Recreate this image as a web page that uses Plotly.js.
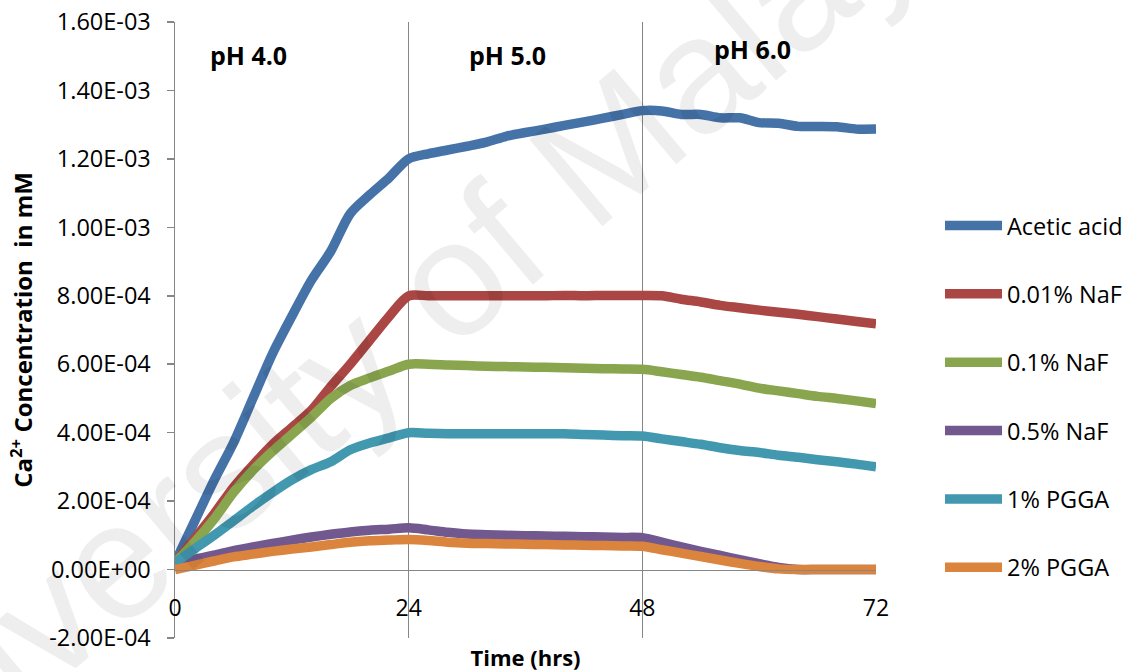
<!DOCTYPE html>
<html><head><meta charset="utf-8">
<script src="https://cdn.plot.ly/plotly-3.0.1.min.js"></script>
<style>html,body{margin:0;padding:0;background:#fff}#chart{width:1141px;height:672px}</style>
</head><body><div id="chart"></div>
<script>
// Time (hrs)
const hours = [0,2,4,6,8,10,12,14,16,18,20,22,24,26,28,30,32,34,36,38,40,42,44,46,48,50,52,54,56,58,60,62,64,66,68,70,72];

// Ca2+ concentration (mM)
const aceticAcid = [2.0e-5,1.40e-4,2.60e-4,3.70e-4,5.00e-4,6.30e-4,7.40e-4,8.45e-4,9.30e-4,1.040e-3,1.095e-3,1.145e-3,1.200e-3,
  1.215e-3,1.226e-3,1.237e-3,1.249e-3,1.266e-3,1.277e-3,1.287e-3,1.298e-3,1.308e-3,1.319e-3,1.330e-3,1.341e-3,
  1.340e-3,1.330e-3,1.330e-3,1.320e-3,1.320e-3,1.306e-3,1.304e-3,1.295e-3,1.295e-3,1.294e-3,1.287e-3,1.287e-3];
const naf001 = [2.0e-5,9.0e-5,1.62e-4,2.40e-4,3.05e-4,3.65e-4,4.15e-4,4.65e-4,5.35e-4,6.00e-4,6.70e-4,7.40e-4,8.00e-4,
  8.00e-4,8.00e-4,8.00e-4,8.00e-4,8.00e-4,8.00e-4,8.00e-4,8.01e-4,8.00e-4,8.01e-4,8.01e-4,8.01e-4,
  8.00e-4,7.90e-4,7.82e-4,7.72e-4,7.65e-4,7.58e-4,7.52e-4,7.46e-4,7.39e-4,7.32e-4,7.25e-4,7.18e-4];
const naf01 = [2.0e-5,8.0e-5,1.47e-4,2.25e-4,2.90e-4,3.45e-4,3.95e-4,4.45e-4,5.00e-4,5.38e-4,5.60e-4,5.80e-4,6.00e-4,
  6.00e-4,5.98e-4,5.96e-4,5.94e-4,5.93e-4,5.92e-4,5.91e-4,5.90e-4,5.88e-4,5.87e-4,5.86e-4,5.85e-4,
  5.78e-4,5.70e-4,5.62e-4,5.52e-4,5.42e-4,5.30e-4,5.22e-4,5.14e-4,5.06e-4,5.00e-4,4.93e-4,4.85e-4];
const naf05 = [2.0e-5,3.0e-5,4.2e-5,5.5e-5,6.6e-5,7.6e-5,8.6e-5,9.5e-5,1.03e-4,1.10e-4,1.15e-4,1.18e-4,1.22e-4,
  1.16e-4,1.09e-4,1.04e-4,1.02e-4,1.00e-4,9.9e-5,9.8e-5,9.7e-5,9.6e-5,9.5e-5,9.4e-5,9.3e-5,
  8.0e-5,6.6e-5,5.3e-5,4.1e-5,2.9e-5,1.7e-5,6.0e-6,0,0,0,0,0];
const pgga1 = [2.0e-5,6.0e-5,1.00e-4,1.42e-4,1.85e-4,2.25e-4,2.62e-4,2.92e-4,3.15e-4,3.50e-4,3.70e-4,3.85e-4,4.00e-4,
  3.98e-4,3.97e-4,3.97e-4,3.97e-4,3.97e-4,3.97e-4,3.97e-4,3.97e-4,3.95e-4,3.93e-4,3.91e-4,3.90e-4,
  3.82e-4,3.74e-4,3.66e-4,3.56e-4,3.48e-4,3.42e-4,3.34e-4,3.28e-4,3.21e-4,3.15e-4,3.08e-4,3.00e-4];
const pgga2 = [0,1.2e-5,2.5e-5,3.7e-5,4.5e-5,5.3e-5,6.0e-5,6.6e-5,7.3e-5,8.0e-5,8.4e-5,8.6e-5,8.8e-5,
  8.5e-5,8.0e-5,7.7e-5,7.6e-5,7.5e-5,7.4e-5,7.3e-5,7.2e-5,7.1e-5,7.0e-5,6.9e-5,6.8e-5,
  5.8e-5,4.8e-5,3.8e-5,2.8e-5,1.8e-5,9.0e-6,2.0e-6,0,0,0,0,0];

const seriesNames = ['Acetic acid','0.01% NaF','0.1% NaF','0.5% NaF','1% PGGA','2% PGGA'];
const seriesValues = [aceticAcid, naf001, naf01, naf05, pgga1, pgga2];
const seriesColors = ['#4572A7','#AA4643','#89A54E','#71588F','#4198AF','#DB843D'];

const xTickVals = [0,24,48,72];
const xTickText = ['0','24','48','72'];
const yTickVals = [-2e-4,0,2e-4,4e-4,6e-4,8e-4,1e-3,1.2e-3,1.4e-3,1.6e-3];
const yTickText = ['-2.00E-04','0.00E+00','2.00E-04','4.00E-04','6.00E-04','8.00E-04','1.00E-03','1.20E-03','1.40E-03','1.60E-03'];

const phLabels = ['pH 4.0','pH 5.0','pH 6.0'];
const phLabelX = [7.5, 34.2, 59.3];
const phLabelY = [1.505e-3, 1.505e-3, 1.52e-3];

const yMin = -2e-4, yMax = 1.6e-3;

const traces = seriesNames.map((name, i) => ({
  type: 'scatter', mode: 'lines', name: name, x: hours, y: seriesValues[i],
  legendgroup: 'g' + i,
  line: {color: seriesColors[i], width: 9.5, shape: 'spline', smoothing: 0.8},
  hoverinfo: 'skip'
}));

const annotations = phLabels.map((t, i) => ({
  text: '<b>' + t + '</b>', x: phLabelX[i], y: phLabelY[i], xref: 'x', yref: 'y',
  xanchor: 'center', yanchor: 'middle',
  showarrow: false, font: {size: 25, color: '#000', family: 'Open Sans, sans-serif'}
}));
annotations.push({
  text: 'University of Malaya', xref: 'paper', yref: 'paper', x: 0.312, y: 0.505,
  xanchor: 'center', yanchor: 'middle',
  showarrow: false, textangle: -40,
  font: {family: 'Liberation Sans, Arial, sans-serif', size: 165, color: 'rgba(0,0,0,0.065)'}
});

const layout = {
  width: 1141, height: 672,
  margin: {l: 175, r: 265, t: 22, b: 34},
  paper_bgcolor: '#ffffff', plot_bgcolor: 'rgba(0,0,0,0)',
  font: {family: 'Open Sans, sans-serif', color: '#000'},
  showlegend: true,
  xaxis: {
    range: [0, 72], tickmode: 'array', tickvals: xTickVals, ticktext: xTickText,
    showgrid: true, gridcolor: '#868686', gridwidth: 1.5,
    showline: true, linecolor: '#868686', linewidth: 1.5, ticks: '', zeroline: false,
    anchor: 'free', position: (0 - yMin) / (yMax - yMin),
    tickfont: {size: 23, color: '#000'}, ticklabelstandoff: 17, automargin: false,
    title: {text: '<b>Time (hrs)</b>', font: {size: 22, color: '#000'}, standoff: 31}
  },
  yaxis: {
    range: [yMin, yMax], tickmode: 'array', tickvals: yTickVals, ticktext: yTickText,
    showgrid: false, zeroline: false, showline: true, linecolor: '#868686', linewidth: 1.5,
    ticks: 'outside', ticklen: 7, tickcolor: '#868686', tickwidth: 1.5,
    tickfont: {size: 23.5, color: '#000'}, ticklabelstandoff: 11, automargin: false,
    title: {text: '<b>Ca<sup>2+</sup> Concentration  in mM</b>', font: {size: 24, color: '#000'}, standoff: 10}
  },
  legend: {x: 1.0913, xanchor: 'left', y: 0.705, yanchor: 'top', font: {size: 23.5, color: '#000'},
    itemwidth: 57, tracegroupgap: 34.8, bgcolor: 'rgba(0,0,0,0)', traceorder: 'grouped'},
  annotations: annotations
};

Plotly.newPlot('chart', traces, layout, {displayModeBar: false, staticPlot: true});
</script>
</body></html>
